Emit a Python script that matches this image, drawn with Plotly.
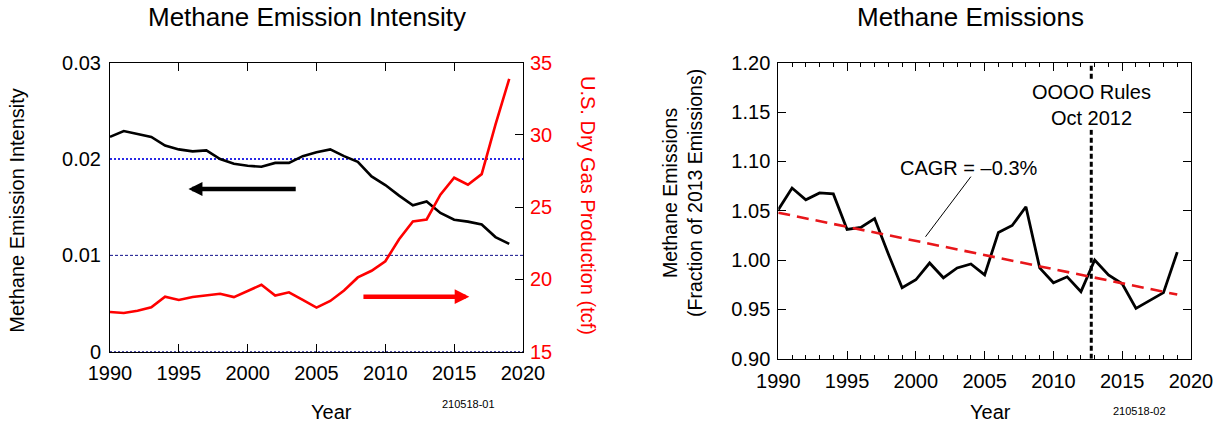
import plotly.graph_objects as go

# ---------------- data ----------------
years = list(range(1990, 2020))

# left panel: methane emission intensity (left axis) and U.S. dry gas production, tcf (right axis)
intensity = [0.0223, 0.0229, 0.0226, 0.0223, 0.0214, 0.0210, 0.0208, 0.0209, 0.0200, 0.0195,
             0.0193, 0.0192, 0.0196, 0.0196, 0.0203, 0.0207, 0.0210, 0.0203, 0.0197, 0.0182,
             0.0173, 0.0162, 0.0152, 0.0156, 0.0144, 0.0137, 0.0135, 0.0132, 0.0119, 0.0112]
gas_production = [17.75, 17.68, 17.84, 18.07, 18.81, 18.58, 18.78, 18.88, 19.01, 18.78,
                  19.20, 19.63, 18.88, 19.11, 18.58, 18.05, 18.51, 19.24, 20.14, 20.60,
                  21.26, 22.78, 24.01, 24.15, 25.87, 27.04, 26.56, 27.29, 30.71, 33.88]

# right panel: methane emissions as fraction of 2013 emissions
emissions = [1.051, 1.073, 1.061, 1.068, 1.067, 1.031, 1.033, 1.042, 1.006, 0.972,
             0.980, 0.997, 0.982, 0.992, 0.996, 0.985, 1.028, 1.035, 1.054, 0.992,
             0.977, 0.983, 0.968, 1.000, 0.985, 0.976, 0.951, 0.959, 0.967, 1.008]
trend_years = [1990, 2019]
trend_values = [1.048, 0.965]
rule_date = 2012.75          # Oct 2012
reference_levels = [0.02, 0.01, 0.0]

x_ticks = [1990, 1995, 2000, 2005, 2010, 2015, 2020]
left_y_ticks = [0, 0.01, 0.02, 0.03]
left_y_labels = ["0", "0.01", "0.02", "0.03"]
right_y_ticks = [15, 20, 25, 30, 35]
emis_ticks = [0.90, 0.95, 1.00, 1.05, 1.10, 1.15, 1.20]

# arrow annotations (data coordinates): tail -> head
black_arrow = dict(tail=(2003.6, 0.0169), head=(1995.7, 0.0169))
red_arrow = dict(tail=(2008.3, 18.81), head=(2016.1, 18.81))
cagr_leader = dict(start=(2004.0, 1.0845), end=(2000.7, 1.0236))

# ---------------- figure ----------------
W, H = 1222, 425
FONT = "Liberation Sans, Arial, sans-serif"
RED = "#ff0000"


def px(x, y):
    return x / W, 1 - y / H


fig = go.Figure()
fig.add_trace(go.Scatter(x=years, y=intensity, mode="lines",
                         line=dict(color="black", width=2.6), xaxis="x", yaxis="y"))
fig.add_trace(go.Scatter(x=years, y=gas_production, mode="lines",
                         line=dict(color=RED, width=2.6), xaxis="x", yaxis="y2"))
fig.add_trace(go.Scatter(x=years, y=emissions, mode="lines",
                         line=dict(color="black", width=2.8), xaxis="x2", yaxis="y3"))
fig.add_trace(go.Scatter(x=trend_years, y=trend_values, mode="lines",
                         line=dict(color="#e8161a", width=2.6, dash="12px,7px"),
                         xaxis="x2", yaxis="y3"))

common = dict(showline=True, linecolor="black", linewidth=1, showgrid=False,
              zeroline=False, ticks="inside", tickcolor="black", tickwidth=1,
              automargin=False,
              tickfont=dict(family=FONT, size=20, color="black"))

xaxis = {**common, "domain": [110 / W, 523 / W], "range": [1990, 2020],
         "tickvals": x_ticks, "ticklen": 8, "mirror": "ticks", "anchor": "y",
         "ticklabelstandoff": 3}
yaxis = {**common, "domain": [1 - 351.7 / H, 1 - 62.7 / H], "range": [0, 0.03],
         "tickvals": left_y_ticks, "ticktext": left_y_labels, "ticks": "",
         "anchor": "x", "ticklabelstandoff": 4}
yaxis2 = {**common, "range": [15, 35], "tickvals": right_y_ticks, "ticklen": 8,
          "overlaying": "y", "side": "right", "anchor": "x", "ticklabelstandoff": 2,
          "tickfont": dict(family=FONT, size=20, color=RED)}
xaxis2 = {**common, "domain": [778.3 / W, 1191 / W], "range": [1990, 2020],
          "tickvals": x_ticks, "ticklen": 8, "mirror": "ticks", "anchor": "y3",
          "ticklabelstandoff": 4,
          "minor": dict(dtick=1, tick0=1990, ticklen=4, ticks="inside", tickcolor="black")}
yaxis3 = {**common, "domain": [1 - 358.7 / H, 1 - 62.7 / H], "range": [0.9, 1.2],
          "tickvals": emis_ticks, "tickformat": ".2f", "ticklen": 8,
          "mirror": "ticks", "anchor": "x2", "ticklabelstandoff": 3}

shapes = []
styles = {0.02: dict(color="#2a2ae6", width=2, dash="2px,2px"),
          0.01: dict(color="#10108a", width=1, dash="3px,2px"),
          0.0: dict(color="#10108a", width=1.5, dash="2px,2px")}
for lvl in reference_levels:
    shapes.append(dict(type="line", xref="x", yref="y", x0=1990, x1=2020, y0=lvl, y1=lvl,
                       line=styles[lvl], layer="below"))
shapes.append(dict(type="line", xref="x2", yref="y3", x0=rule_date, x1=rule_date,
                   y0=0.9, y1=1.2, line=dict(color="black", width=3, dash="5px,3px"),
                   layer="above"))
shapes.append(dict(type="line", xref="x2", yref="y3",
                   x0=cagr_leader["start"][0], y0=cagr_leader["start"][1],
                   x1=cagr_leader["end"][0], y1=cagr_leader["end"][1],
                   line=dict(color="black", width=1), layer="above"))


def text_ann(text, x, y, size, color="black", angle=0, **kw):
    xp, yp = px(x, y)
    d = dict(text=text, x=xp, y=yp, xref="paper", yref="paper", showarrow=False,
             xanchor="center", yanchor="middle", textangle=angle,
             font=dict(family=FONT, size=size, color=color))
    d.update(kw)
    return d


annotations = [
    text_ann("Methane Emission Intensity", 307, 17, 26),
    text_ann("Methane Emissions", 970, 17, 26),
    text_ann("Methane Emission Intensity", 17, 210.7, 20, angle=-90),
    text_ann("U.S. Dry Gas Production (tcf)", 588, 205, 20, color=RED, angle=90),
    text_ann("Methane Emissions<br>(Fraction of 2013 Emissions)", 682, 193, 19.5, angle=-90),
    text_ann("Year", 331, 412, 20),
    text_ann("Year", 990, 412, 20),
    text_ann("210518-01", 468, 404, 11),
    text_ann("210518-02", 1139, 411, 11),
    dict(text="CAGR = \u20130.3%", x=2003.85, y=1.0936, xref="x2", yref="y3",
         showarrow=False, xanchor="center", yanchor="middle",
         font=dict(family=FONT, size=20, color="black")),
    dict(text="OOOO Rules<br>Oct 2012", x=2012.8, y=1.157, xref="x2", yref="y3",
         showarrow=False, xanchor="center", yanchor="middle", bgcolor="white",
         borderpad=0, font=dict(family=FONT, size=20, color="black")),
    dict(text="", x=black_arrow["head"][0], y=black_arrow["head"][1], xref="x", yref="y",
         ax=black_arrow["tail"][0], ay=black_arrow["tail"][1], axref="x", ayref="y",
         showarrow=True, arrowhead=2, arrowsize=0.62, arrowwidth=4.5, arrowcolor="black",
         standoff=0),
    dict(text="", x=red_arrow["head"][0], y=red_arrow["head"][1], xref="x", yref="y2",
         ax=red_arrow["tail"][0], ay=red_arrow["tail"][1], axref="x", ayref="y2",
         showarrow=True, arrowhead=2, arrowsize=0.65, arrowwidth=4.5, arrowcolor=RED,
         standoff=0),
]

fig.update_layout(
    template="none",
    width=W, height=H, autosize=False,
    margin=dict(l=0, r=0, t=0, b=0, pad=0, autoexpand=False),
    paper_bgcolor="white", plot_bgcolor="white",
    showlegend=False,
    font=dict(family=FONT, size=20, color="black"),
    xaxis=xaxis, yaxis=yaxis, yaxis2=yaxis2, xaxis2=xaxis2, yaxis3=yaxis3,
    shapes=shapes, annotations=annotations,
)

fig.write_html("out.html", config={"displayModeBar": False},
               post_script="document.body.style.margin='0';")
